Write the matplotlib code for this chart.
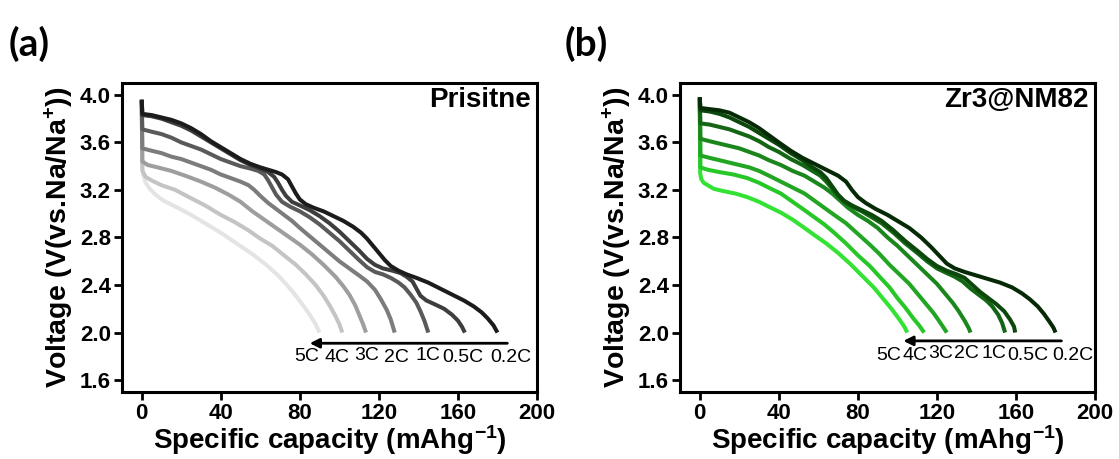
import matplotlib
matplotlib.use("Agg")
import matplotlib.pyplot as plt

plt.rcParams['font.family'] = ['Liberation Sans', 'DejaVu Sans']
plt.rcParams['font.weight'] = 'bold'
plt.rcParams['mathtext.fontset'] = 'custom'
plt.rcParams['mathtext.rm'] = 'Liberation Sans'
plt.rcParams['mathtext.bf'] = 'Liberation Sans:bold'
plt.rcParams['mathtext.default'] = 'bf'

rates = ['0.2C', '0.5C', '1C', '2C', '3C', '4C', '5C']

# ---- Pristine electrode: discharge curves (capacity mAh/g, voltage V) ----
cap_p_02 = [0, 0.3, 5, 10, 15, 20, 25, 30, 35, 40, 45, 50, 55, 60, 64, 68, 71, 74, 76, 78, 80, 83, 87, 92, 97,
            102, 107, 111, 114, 117, 120, 123, 126, 130, 134, 139, 145, 151, 157, 163, 168, 172, 175, 178, 180]
v_p_02 = [3.96, 3.84, 3.83, 3.81, 3.79, 3.76, 3.72, 3.67, 3.61, 3.56, 3.51, 3.46, 3.42, 3.39, 3.37, 3.35, 3.33,
          3.29, 3.23, 3.17, 3.12, 3.08, 3.05, 3.02, 2.98, 2.94, 2.89, 2.84, 2.79, 2.73, 2.67, 2.61, 2.56, 2.52,
          2.49, 2.46, 2.42, 2.37, 2.32, 2.27, 2.22, 2.17, 2.12, 2.06, 2.00]
cap_p_05 = [0, 0.3, 5, 10, 15, 20, 25, 30, 35, 40, 45, 50, 55, 60, 64, 67, 69, 71, 73, 76, 80, 85, 90, 95, 100,
            105, 110, 114, 118, 122, 127, 131, 134, 137, 139, 141, 144, 148, 153, 157, 160, 162, 163.5]
v_p_05 = [3.96, 3.83, 3.82, 3.80, 3.77, 3.74, 3.70, 3.65, 3.60, 3.55, 3.50, 3.45, 3.41, 3.38, 3.35, 3.31, 3.26,
          3.20, 3.15, 3.10, 3.07, 3.03, 2.98, 2.92, 2.85, 2.77, 2.69, 2.62, 2.57, 2.54, 2.52, 2.50, 2.47, 2.43,
          2.37, 2.31, 2.27, 2.24, 2.20, 2.15, 2.10, 2.05, 2.00]
cap_p_1 = [0, 0.3, 5, 10, 15, 20, 25, 30, 35, 40, 45, 50, 55, 59, 62, 64, 66, 68, 71, 75, 80, 85, 90, 95, 100,
           105, 110, 114, 118, 122, 126, 130, 133, 136, 139, 141, 143, 145]
v_p_1 = [3.95, 3.71, 3.69, 3.67, 3.64, 3.60, 3.57, 3.54, 3.50, 3.46, 3.43, 3.40, 3.38, 3.36, 3.33, 3.28, 3.22,
         3.16, 3.10, 3.06, 3.02, 2.97, 2.91, 2.84, 2.77, 2.69, 2.61, 2.55, 2.51, 2.49, 2.46, 2.42, 2.38, 2.32,
         2.25, 2.18, 2.10, 2.00]
cap_p_2 = [0, 0.3, 5, 10, 15, 20, 25, 30, 35, 40, 45, 50, 54, 57, 60, 64, 68, 72, 76, 80, 85, 90, 95, 100, 105,
           110, 114, 118, 121, 124, 126, 128]
v_p_2 = [3.95, 3.55, 3.53, 3.51, 3.48, 3.46, 3.43, 3.40, 3.37, 3.33, 3.30, 3.27, 3.24, 3.20, 3.15, 3.09, 3.04,
         2.99, 2.94, 2.88, 2.81, 2.74, 2.67, 2.60, 2.54, 2.48, 2.43, 2.36, 2.28, 2.19, 2.11, 2.00]
cap_p_3 = [0, 0.3, 3, 8, 15, 22, 30, 37, 44, 50, 56, 62, 68, 74, 80, 86, 92, 98, 102, 105, 108, 110, 112, 113.5]
v_p_3 = [3.95, 3.44, 3.41, 3.39, 3.36, 3.32, 3.27, 3.22, 3.16, 3.10, 3.02, 2.95, 2.88, 2.81, 2.74, 2.66, 2.57,
         2.47, 2.39, 2.32, 2.23, 2.15, 2.07, 2.00]
cap_p_4 = [0, 0.3, 2, 5, 10, 17, 25, 32, 40, 47, 54, 60, 66, 72, 78, 83, 88, 92, 95, 98, 100, 101.5]
v_p_4 = [3.94, 3.36, 3.31, 3.28, 3.24, 3.20, 3.13, 3.07, 2.99, 2.93, 2.86, 2.79, 2.73, 2.65, 2.57, 2.49, 2.40,
         2.31, 2.23, 2.14, 2.07, 2.00]
cap_p_5 = [0, 0.2, 0.8, 2, 4, 7, 11, 17, 24, 32, 40, 48, 56, 63, 69, 74, 78, 82, 85, 88, 90]
v_p_5 = [3.93, 3.42, 3.32, 3.26, 3.21, 3.16, 3.11, 3.06, 3.00, 2.92, 2.84, 2.75, 2.66, 2.57, 2.48, 2.39, 2.31,
         2.22, 2.15, 2.07, 2.00]

# ---- Zr3@NM82 electrode ----
cap_z_02 = [0, 0.3, 5, 10, 15, 20, 25, 30, 35, 40, 46, 52, 58, 64, 70, 74, 77, 80, 84, 89, 95, 100, 106, 112,
            117, 121, 125, 129, 134, 140, 146, 152, 158, 163, 167, 171, 174, 177, 179, 180]
v_z_02 = [3.98, 3.89, 3.88, 3.87, 3.85, 3.81, 3.77, 3.72, 3.66, 3.60, 3.53, 3.47, 3.42, 3.37, 3.32, 3.27, 3.20,
          3.14, 3.09, 3.04, 2.99, 2.94, 2.88, 2.80, 2.72, 2.65, 2.58, 2.54, 2.51, 2.48, 2.45, 2.42, 2.38, 2.33,
          2.28, 2.22, 2.16, 2.09, 2.04, 2.00]
cap_z_05 = [0, 0.3, 5, 10, 15, 20, 25, 30, 35, 40, 46, 52, 57, 61, 64, 67, 70, 73, 77, 82, 87, 92, 98, 104,
            110, 115, 120, 125, 130, 134, 138, 142, 146, 150, 154, 157, 159, 159.6]
v_z_05 = [3.98, 3.87, 3.86, 3.84, 3.81, 3.77, 3.73, 3.68, 3.63, 3.58, 3.51, 3.45, 3.39, 3.35, 3.30, 3.23, 3.16,
          3.11, 3.07, 3.03, 2.99, 2.94, 2.86, 2.77, 2.69, 2.62, 2.56, 2.52, 2.49, 2.46, 2.40, 2.34, 2.29, 2.24,
          2.18, 2.11, 2.05, 2.00]
cap_z_1 = [0, 0.3, 5, 10, 15, 20, 25, 30, 35, 40, 46, 52, 57, 61, 64, 67, 70, 73, 77, 82, 87, 92, 98, 104, 110,
           115, 120, 125, 129, 133, 137, 141, 145, 148, 151, 153, 154.5]
v_z_1 = [3.98, 3.76, 3.75, 3.73, 3.71, 3.68, 3.65, 3.61, 3.56, 3.52, 3.46, 3.41, 3.36, 3.32, 3.27, 3.21, 3.15,
         3.10, 3.06, 3.02, 2.97, 2.92, 2.84, 2.75, 2.67, 2.60, 2.54, 2.50, 2.47, 2.43, 2.37, 2.32, 2.27, 2.22,
         2.15, 2.08, 2.00]
cap_z_2 = [0, 0.3, 5, 10, 15, 20, 25, 30, 35, 41, 47, 53, 58, 63, 67, 71, 75, 80, 85, 90, 95, 100, 105, 110, 115,
           120, 124, 128, 131, 134, 136, 137]
v_z_2 = [3.97, 3.63, 3.61, 3.59, 3.57, 3.55, 3.52, 3.49, 3.45, 3.41, 3.36, 3.32, 3.27, 3.22, 3.17, 3.11, 3.05,
         2.99, 2.94, 2.88, 2.80, 2.73, 2.65, 2.57, 2.49, 2.41, 2.33, 2.25, 2.18, 2.10, 2.04, 2.00]
cap_z_3 = [0, 0.3, 5, 10, 15, 20, 25, 30, 35, 41, 47, 53, 58, 63, 68, 74, 80, 86, 91, 96, 101, 106, 110, 114,
           118, 121, 123, 125]
v_z_3 = [3.96, 3.49, 3.47, 3.45, 3.43, 3.41, 3.39, 3.36, 3.32, 3.27, 3.22, 3.17, 3.11, 3.05, 2.99, 2.92, 2.83,
         2.74, 2.66, 2.57, 2.49, 2.41, 2.33, 2.25, 2.17, 2.10, 2.05, 2.00]
cap_z_4 = [0, 0.3, 4, 10, 17, 24, 30, 36, 41, 47, 53, 58, 63, 68, 74, 80, 86, 91, 96, 100, 104, 108, 111, 113.5]
v_z_4 = [3.95, 3.39, 3.37, 3.35, 3.33, 3.30, 3.26, 3.21, 3.17, 3.10, 3.03, 2.97, 2.91, 2.84, 2.75, 2.65, 2.56,
         2.47, 2.38, 2.29, 2.21, 2.12, 2.06, 2.00]
cap_z_5 = [0, 0.2, 0.8, 2, 4, 7, 12, 18, 24, 30, 36, 41, 47, 53, 58, 64, 70, 76, 82, 88, 93, 97, 101, 103.5, 105]
v_z_5 = [3.94, 3.34, 3.29, 3.26, 3.24, 3.21, 3.19, 3.17, 3.14, 3.10, 3.05, 3.01, 2.95, 2.88, 2.82, 2.75, 2.67,
         2.58, 2.48, 2.38, 2.28, 2.20, 2.11, 2.05, 2.00]

colors_p = ['#1c1c1c', '#3e3e3e', '#5a5a5a', '#7c7c7c', '#9e9e9e', '#c4c4c4', '#e4e4e4']
colors_z = ['#062a06', '#0c480c', '#136613', '#1b861b', '#22a522', '#28c728', '#33e233']

# rate labels under the arrow (capacity position, voltage position)
lab_cap_p = [186.7, 162.5, 145, 129, 114, 99, 83.5]
lab_v_p = [1.79, 1.79, 1.81, 1.79, 1.81, 1.79, 1.80]
lab_cap_z = [188.6, 166, 149, 135, 121.8, 109, 95.7]
lab_v_z = [1.81, 1.81, 1.82, 1.82, 1.82, 1.81, 1.81]

arrow_p = (185, 85, 1.91)
arrow_z = (183, 103, 1.93)

curves_p = [(cap_p_02, v_p_02), (cap_p_05, v_p_05), (cap_p_1, v_p_1), (cap_p_2, v_p_2),
            (cap_p_3, v_p_3), (cap_p_4, v_p_4), (cap_p_5, v_p_5)]
curves_z = [(cap_z_02, v_z_02), (cap_z_05, v_z_05), (cap_z_1, v_z_1), (cap_z_2, v_z_2),
            (cap_z_3, v_z_3), (cap_z_4, v_z_4), (cap_z_5, v_z_5)]

fig = plt.figure(figsize=(11.19, 4.59), dpi=100)
ax_a = fig.add_axes([0.1090, 0.1460, 0.3709, 0.6732])
ax_b = fig.add_axes([0.6077, 0.1460, 0.3709, 0.6732])


def draw_panel(ax, curves, colors, lab_cap, lab_v, arrow, name):
    # slowest rate drawn last so it sits on top
    for (c, v), col in reversed(list(zip(curves, colors))):
        ax.plot(c, v, color=col, lw=2.9, solid_capstyle='butt', solid_joinstyle='round')
    x0, x1, yv = arrow
    ax.annotate('', xy=(x1, yv), xytext=(x0, yv),
                arrowprops=dict(arrowstyle='-|>', color='black', lw=2.0,
                                mutation_scale=14, shrinkA=0, shrinkB=0))
    for r, xc, yc in zip(rates, lab_cap, lab_v):
        ax.text(xc, yc, r, ha='center', va='center', fontsize=14, fontweight='normal')
    ax.text(0.985, 0.988, name, transform=ax.transAxes, ha='right', va='top',
            fontsize=20, fontweight='bold')
    ax.set_xlim(-10, 200)
    ax.set_ylim(1.5, 4.1)
    ax.set_xticks([0, 40, 80, 120, 160, 200])
    ax.set_yticks([1.6, 2.0, 2.4, 2.8, 3.2, 3.6, 4.0])
    ax.set_yticklabels(['1.6', '2.0', '2.4', '2.8', '3.2', '3.6', '4.0'])
    ax.tick_params(direction='out', length=6, width=2, labelsize=16, pad=2)
    for lbl in ax.get_xticklabels() + ax.get_yticklabels():
        lbl.set_fontweight('bold')
    for s in ax.spines.values():
        s.set_linewidth(2.2)
    ax.set_xlabel('Specific capacity (mAhg$^{-1}$)', fontsize=20, fontweight='bold', labelpad=-1)
    ax.set_ylabel('Voltage (V(vs.Na/Na$^{+}$))', fontsize=20.5, fontweight='bold', labelpad=3)


draw_panel(ax_a, curves_p, colors_p, lab_cap_p, lab_v_p, arrow_p, 'Prisitne')
draw_panel(ax_b, curves_z, colors_z, lab_cap_z, lab_v_z, arrow_z, 'Zr3@NM82')

fig.text(0.008, 0.905, '(a)', fontsize=28, fontweight='bold', family=['Lato', 'DejaVu Sans'], va='center')
fig.text(0.505, 0.905, '(b)', fontsize=28, fontweight='bold', family=['Lato', 'DejaVu Sans'], va='center')

fig.savefig('out.png', dpi=100)
